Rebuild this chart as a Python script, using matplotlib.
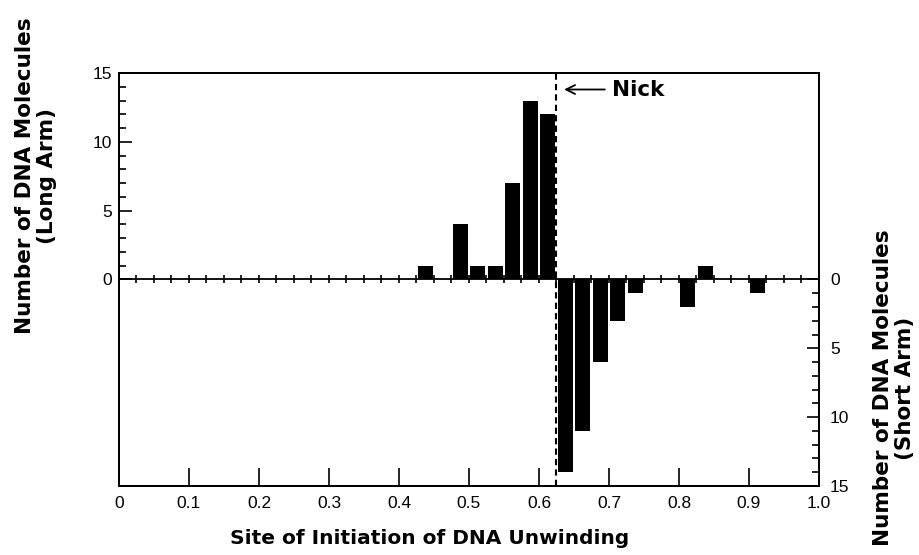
import numpy as np
import matplotlib
matplotlib.use("Agg")
import matplotlib.pyplot as plt
from matplotlib.ticker import FixedLocator, FuncFormatter

plt.rcParams["font.family"] = ["Liberation Sans", "DejaVu Sans"]

# bins of width 0.025 along the molecule, centres given
long_pos = [0.4375, 0.4875, 0.5125, 0.5375, 0.5625, 0.5875, 0.6125, 0.8375]
long_cnt = [1, 4, 1, 1, 7, 13, 12, 1]
short_pos = [0.6375, 0.6625, 0.6875, 0.7125, 0.7375, 0.8125, 0.9125]
short_cnt = [14, 11, 6, 3, 1, 2, 1]
nick_site = 0.625
x_ticks = [0, 0.1, 0.2, 0.3, 0.4, 0.5, 0.6, 0.7, 0.8, 0.9, 1.0]
x_labels = ["0", "0.1", "0.2", "0.3", "0.4", "0.5", "0.6", "0.7", "0.8", "0.9", "1.0"]

fig = plt.figure(figsize=(9.2, 5.55), dpi=100)
ax = fig.add_axes([0.1293, 0.1243, 0.8902 - 0.1293, 0.8685 - 0.1243])

bw = 0.021
ax.bar(long_pos, long_cnt, bw, color="black", zorder=3)
ax.bar(short_pos, [-c for c in short_cnt], bw, color="black", zorder=3)

# baseline with small crossing ticks
ax.axhline(0, color="black", lw=1.3, zorder=2)
bins = np.arange(0.025, 1.0, 0.025)
ax.plot(bins, np.zeros_like(bins), ls="none", marker="|", ms=6, mew=1.2,
        color="black", zorder=2)

ax.axvline(nick_site, color="black", lw=1.5, ls=(0, (3, 2)), zorder=4)
lab = dict(family="DejaVu Sans", fontweight="bold")
ax.annotate("Nick", xy=(0.636, 13.8), xytext=(0.704, 13.8),
            fontsize=15.5, va="center", ha="left", **lab,
            arrowprops=dict(arrowstyle="->", lw=1.3, color="black",
                            shrinkA=3, shrinkB=0, mutation_scale=16))

ax.set_xlim(0, 1.0)
ax.set_ylim(-15, 15)

ax.set_xticks(x_ticks, x_labels)
ax.tick_params(axis="x", direction="in", length=13, width=1.2, labelsize=12.5, pad=7)

ax.yaxis.set_major_locator(FixedLocator([0, 5, 10, 15]))
ax.yaxis.set_minor_locator(FixedLocator([v for v in range(1, 15) if v % 5]))
ax.tick_params(axis="y", which="major", direction="in", length=9, width=1.2,
               labelsize=12.5, pad=5)
ax.tick_params(axis="y", which="minor", direction="in", length=5, width=1.2)

ax2 = ax.twinx()
ax2.set_ylim(-15, 15)
ax2.yaxis.set_major_locator(FixedLocator([0, -5, -10, -15]))
ax2.yaxis.set_minor_locator(FixedLocator([-v for v in range(1, 15) if v % 5]))
ax2.yaxis.set_major_formatter(FuncFormatter(lambda v, p: f"{abs(v):.0f}"))
ax2.tick_params(axis="y", which="major", direction="in", length=9, width=1.2,
                labelsize=12.5, pad=8)
ax2.tick_params(axis="y", which="minor", direction="in", length=5, width=1.2)

for a in (ax, ax2):
    for s in a.spines.values():
        s.set_linewidth(1.4)

fig.text(430 / 920, 1 - 539 / 555, "Site of Initiation of DNA Unwinding",
         ha="center", va="center", fontsize=14.5, **lab)

fig.text(36 / 920, 1 - 176 / 555, "Number of DNA Molecules\n(Long Arm)",
         rotation=90, ha="center", va="center", multialignment="center",
         fontsize=15.5, linespacing=1.15, **lab)
fig.text(894 / 920, 1 - 388 / 555, "Number of DNA Molecules\n(Short Arm)",
         rotation=90, ha="center", va="center", multialignment="center",
         fontsize=15.5, linespacing=1.15, **lab)

fig.savefig("out.png", dpi=100)
